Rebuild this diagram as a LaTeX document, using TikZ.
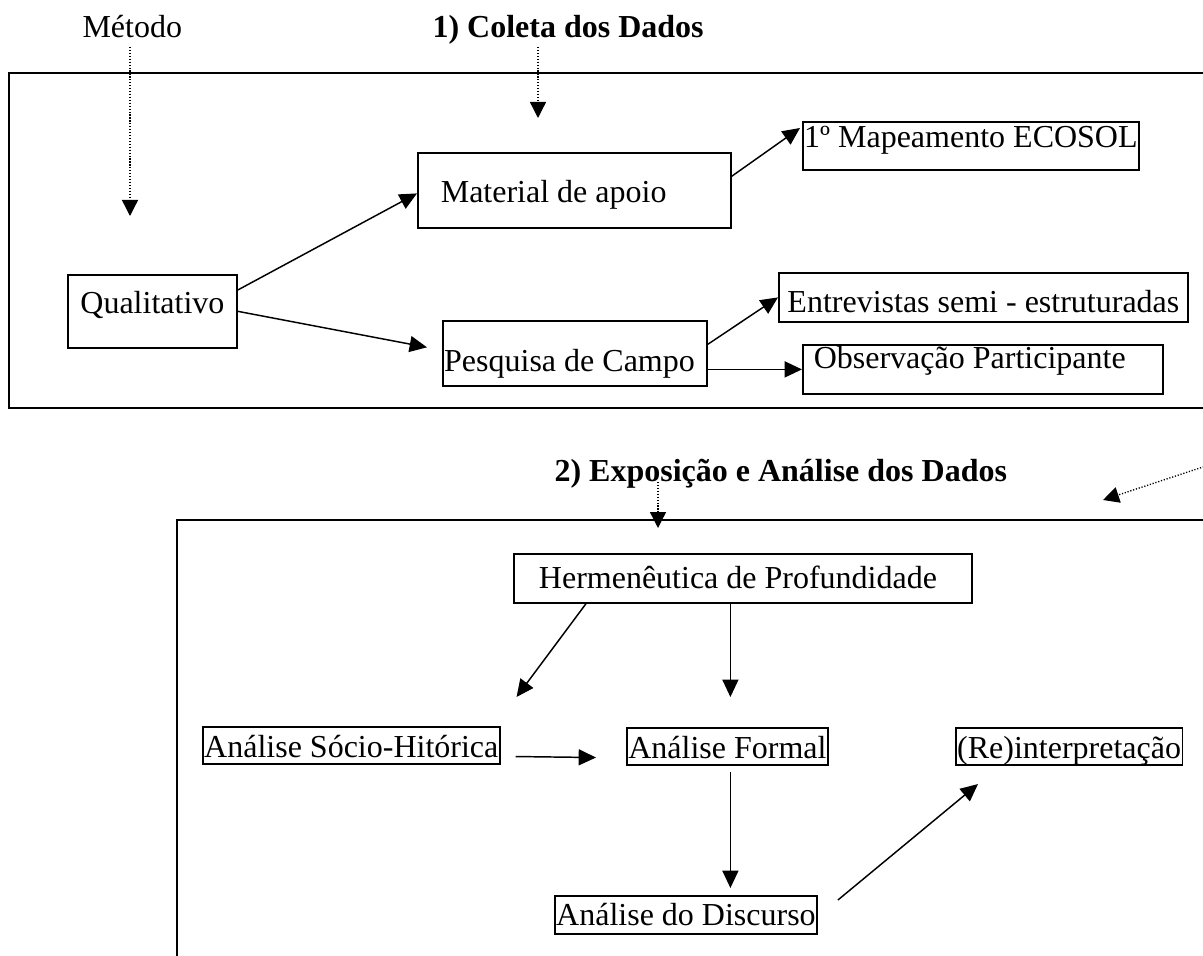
\documentclass[tikz,border=0pt]{standalone}
\usepackage{fontspec}
\setmainfont{Liberation Serif}
\usetikzlibrary{calc,positioning,arrows.meta}
\tikzset{
  caixa/.style={draw, line width=0.65pt, inner ysep=0pt, anchor=north west},
  seta/.style={line width=0.55pt, -{Triangle[length=6.5pt,width=6pt]}},
  pontilhada/.style={line width=0.5pt, dash pattern=on 0.45pt off 0.65pt, -{Triangle[length=6pt,width=6pt]}},
  titulo/.style={anchor=base west, inner sep=0pt},
  moldura/.style={line width=0.8pt}
}
\begin{document}
\begin{tikzpicture}[x=0.375pt,y=-0.375pt,font=\fontsize{12}{14}\selectfont]
\useasboundingbox (0,0) rectangle (1203,956);
\clip (0,0) rectangle (1203,956);
% 1) coleta
\node[titulo] (metodo) at (82,38) {Método};
\node[titulo] (coleta) at (432,38) {\textbf{1) Coleta dos Dados}};
\draw[moldura] (9,73) rectangle (1215,408);
\node[caixa, minimum width=63.4pt, inner xsep=0pt, text height=14.6pt, text depth=12.75pt] (qual) at (67,274) {Qualitativo};
\node[caixa, text width=100.1pt, inner xsep=8.6pt, align=flush left, text height=18.75pt, text depth=9.4pt] (mat) at (417,152) {Material de apoio};
\node[caixa, text width=98pt, inner xsep=0.5pt, align=flush left, text height=19.1pt, text depth=5.25pt] (pesq) at (442,320) {Pesquisa de Campo};
\node[caixa, minimum width=126pt, inner xsep=0.5pt, text height=9.75pt, text depth=8.25pt] (mapa) at (802,121) {1º Mapeamento ECOSOL};
\node[caixa, minimum width=153.4pt, inner xsep=1pt, text height=15pt, text depth=3.4pt] (entr) at (778,272) {Entrevistas semi - estruturadas};
\node[caixa, text width=126.8pt, inner xsep=4.1pt, align=flush left, text height=9pt, text depth=9.4pt] (obs) at (802,344) {Observação Participante};
\coordinate (alvoMetodo) at (130,216);
\coordinate (alvoColeta) at (538,118);
\draw[pontilhada] ($(metodo.base -| alvoMetodo)+(0,9)$) -- (alvoMetodo);
\draw[pontilhada] ($(coleta.base -| alvoColeta)+(0,9)$) -- (alvoColeta);
\draw[seta] ($(qual.north east)+(0,16)$) -- ($(mat.west)+(0,3)$);
\draw[seta] (qual.east) -- ($(pesq.west)+(-15,-6)$);
\draw[seta] ($(mat.east)+(0,-14)$) -- ($(mapa.north west)+(-2,7)$);
\draw[seta] ($(pesq.east)+(0,-9)$) -- (entr.west);
\draw[seta] (pesq.east |- obs.west) -- (obs.west);
% 2) exposicao e analise
\node[titulo] (expo) at (554,481) {\textbf{2) Exposição e Análise dos Dados}};
\draw[moldura] (177,520) rectangle (1215,970);
\coordinate (alvoExpo) at (658,528);
\coordinate (origemDir) at (1215,463);
\coordinate (alvoDir) at (1103,500);
\draw[pontilhada] ($(expo.base -| alvoExpo)+(0,1)$) -- (alvoExpo);
\draw[pontilhada] (origemDir) -- (alvoDir);
\node[caixa, text width=152.95pt, inner xsep=9.4pt, align=flush left, text height=13.1pt, text depth=5.25pt] (herm) at (513,553) {Hermenêutica de Profundidade};
\node[caixa, minimum width=111pt, inner xsep=0.5pt, text height=11.4pt, text depth=2.6pt] (socio) at (202,726) {Análise Sócio-Hitórica};
\node[caixa, minimum width=75.4pt, inner xsep=0.5pt, text height=11.4pt, text depth=2.6pt] (formal) at (626,727) {Análise Formal};
\node[caixa, minimum width=84.75pt, inner xsep=0.5pt, text height=11.4pt, text depth=2.6pt] (reint) at (955,727) {(Re)interpretação};
\node[caixa, minimum width=97.9pt, inner xsep=0.5pt, text height=11.25pt, text depth=3pt] (disc) at (554,895) {Análise do Discurso};
\draw[seta] ($(herm.south west)+(73,0)$) -- ($(socio.north east)+(16,-29)$);
\draw[seta] ($(formal.north |- herm.south)+(3,0)$) -- ($(formal.north)+(3,-30)$);
\draw[seta] ($(socio.east)+(15,11)$) -- ($(formal.west)+(-30,11)$);
\draw[seta] ($(formal.south)+(3,6)$) -- ($(formal.south |- disc.north)+(3,-7)$);
\draw[seta] ($(disc.north east)+(20,5)$) -- ($(reint.south west)+(23,18)$);
\end{tikzpicture}
\end{document}
